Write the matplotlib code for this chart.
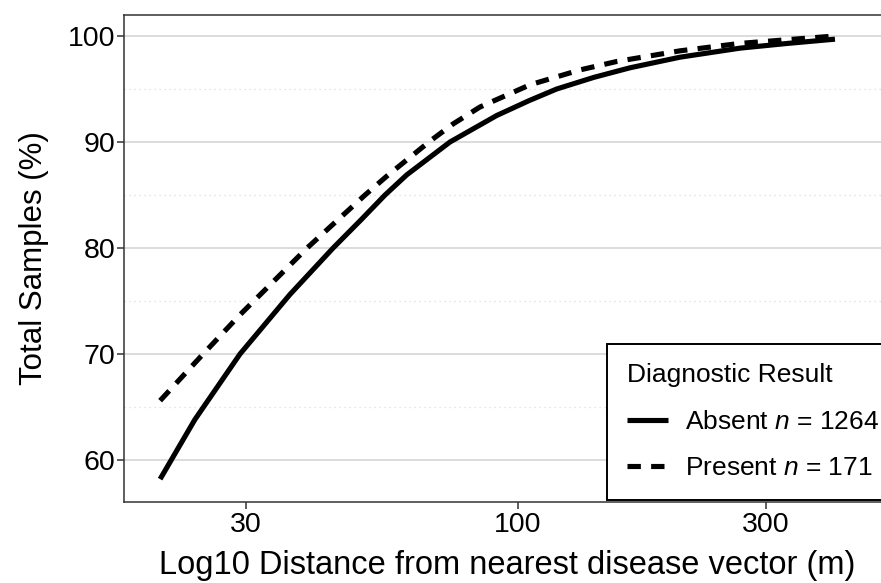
import numpy as np
import matplotlib
matplotlib.use("Agg")
import matplotlib.pyplot as plt
from matplotlib.ticker import FixedLocator, FixedFormatter, NullFormatter

plt.rcParams['font.family'] = ['Liberation Sans', 'DejaVu Sans']
plt.rcParams['mathtext.fontset'] = 'custom'
plt.rcParams['mathtext.it'] = 'Liberation Sans:italic'
plt.rcParams['mathtext.rm'] = 'Liberation Sans'

# cumulative % of samples vs distance (m)
absent_dist = [20.5, 23.9, 29.2, 36.4, 44.1, 50, 55.5, 61.1, 74, 91.0, 105, 118.7, 140, 164.2, 204.9, 267, 330, 407]
absent_pct = [58.2, 63.8, 70.0, 75.6, 80.0, 82.7, 85.0, 86.9, 90.0, 92.5, 93.9, 95.0, 96.1, 97.0, 98.0, 98.85, 99.3, 99.7]

present_dist = [20.5, 24.8, 29.2, 39.3, 50.8, 56, 67.8, 75, 84.5, 105.5, 131.6, 155, 204.9, 267, 407]
present_pct = [65.6, 70.0, 73.7, 80.0, 85.0, 86.8, 90.1, 91.7, 93.3, 95.4, 96.8, 97.6, 98.6, 99.3, 100.0]

labels = ['Absent $n$ = 1264', 'Present $n$ = 171']
x_ticks = [30, 100, 300]
y_ticks = [60, 70, 80, 90, 100]
y_minor = [65, 75, 85, 95]

W, H = 881, 583
fig = plt.figure(figsize=(W / 100, H / 100), dpi=100)
ax = fig.add_axes([124 / W, (H - 502) / H, (890 - 124) / W, (502 - 15) / H])

ax.plot(absent_dist, absent_pct, color='black', lw=3.7, solid_capstyle='butt',
        solid_joinstyle='round', label=labels[0], zorder=3)
ax.plot(present_dist, present_pct, color='black', lw=3.7, dashes=(2.6, 2.0),
        dash_capstyle='butt', label=labels[1], zorder=3)

ax.set_xscale('log')
ax.set_xlim(10 ** 1.2423, 10 ** 2.7154)
ax.set_ylim(56.04, 101.98)

ax.xaxis.set_major_locator(FixedLocator(x_ticks))
ax.xaxis.set_major_formatter(FixedFormatter([str(v) for v in x_ticks]))
ax.xaxis.set_minor_locator(FixedLocator([]))
ax.xaxis.set_minor_formatter(NullFormatter())
ax.yaxis.set_major_locator(FixedLocator(y_ticks))
ax.yaxis.set_minor_locator(FixedLocator(y_minor))

ax.yaxis.grid(True, which='major', color='#d9d9d9', lw=1.3)
ax.yaxis.grid(True, which='minor', color='#dddddd', lw=0.9, ls=(0, (1, 3)))
ax.set_axisbelow(True)

for s in ax.spines.values():
    s.set_color('#333333')
    s.set_linewidth(1.1)

ax.tick_params(axis='both', which='major', labelsize=20.5, color='#333333',
               length=5, width=1.1, pad=2, labelcolor='black')
ax.tick_params(axis='y', which='major', pad=1)
ax.tick_params(axis='y', which='minor', length=0)

ax.set_xlabel('Log10 Distance from nearest disease vector (m)', fontsize=23.5, labelpad=9)
ax.set_ylabel('Total Samples (%)', fontsize=22.5, labelpad=14)

leg = ax.legend(title='Diagnostic Result', loc='lower left',
                bbox_to_anchor=(607 / W, (H - 500) / H), bbox_transform=fig.transFigure,
                borderaxespad=0, fontsize=19, title_fontsize=19, frameon=True,
                fancybox=False, edgecolor='black', framealpha=1, handlelength=1.55,
                handletextpad=0.65, borderpad=0.75, labelspacing=0.85, alignment='left')
leg.get_frame().set_linewidth(1.4)

fig.savefig('out.png', dpi=100)
